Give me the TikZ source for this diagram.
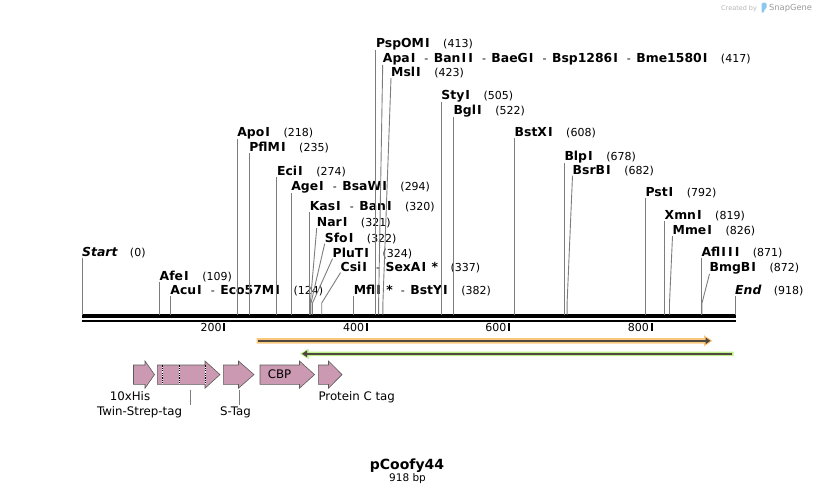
\documentclass[tikz,border=0pt]{standalone}
\usepackage{fontspec}
\setmainfont{DejaVu Sans}
\usetikzlibrary{arrows.meta}
\definecolor{linegray}{RGB}{125,125,125}
\definecolor{featpink}{RGB}{204,153,178}
\definecolor{featedge}{RGB}{90,90,90}
\definecolor{orfor}{RGB}{250,200,125}
\definecolor{orfgr}{RGB}{188,240,140}
\definecolor{orfdark}{RGB}{80,72,62}
\definecolor{logogray}{RGB}{180,180,180}
\definecolor{logoblue}{RGB}{140,200,235}
\newcommand\enz[2]{{\fontsize{12.4}{13}\selectfont\bfseries #1}\hspace{12.5pt}(#2)}
\newcommand\ensep{{\fontsize{11}{13}\selectfont\mdseries\hspace{8pt}-\hspace{5.5pt}}}
\newcommand\wI{\kern1.05pt I\kern1.05pt}
\begin{document}
\begin{tikzpicture}[x=1pt,y=-1pt,
  enzl/.style={anchor=base west, inner sep=0pt, font=\fontsize{11}{13}\selectfont},
  cutl/.style={draw=linegray, line width=0.9pt},
  feat/.style={fill=featpink, draw=featedge, line width=0.6pt},
  ftxt/.style={inner sep=0pt, anchor=base, font=\fontsize{11.8}{13}\selectfont},
  ticklbl/.style={anchor=base east, inner sep=0pt, font=\fontsize{11}{13}\selectfont},
  orfline/.style={draw=orfdark, line width=2pt, -{Triangle[length=5pt,width=6.5pt]}}]
\useasboundingbox (0,0) rectangle (818,493);
\coordinate (top) at (0,314.5);
% ---------- backbone ----------
\coordinate (bbL) at (82,316);
\coordinate (bbR) at (735.5,316);
\coordinate (bbL2) at (82,321.2);
\coordinate (bbR2) at (735.5,321.2);
\draw[line width=3.3pt] (bbL) -- (bbR);
\draw[line width=2.3pt] (bbL2) -- (bbR2);
% ticks
\foreach \x/\t in {224.4/200,366.7/400,509.1/600,651.5/800}{
  \fill (\x-1,322.5) rectangle (\x+1,331);
  \node[ticklbl] (tk\t) at (\x-2.5,331.5) {\t};
}
% ---------- enzyme labels ----------
\node[enzl] (n0)   at (82,256)    {\enz{\itshape Start}{0}};
\node[enzl] (n109) at (159.5,280) {\enz{Afe\wI}{109}};
\node[enzl] (n124) at (170.2,294.5) {\enz{Acu\wI\ensep Eco57M\wI}{124}};
\node[enzl] (n218) at (237.1,136.5) {\enz{Apo\wI}{218}};
\node[enzl] (n235) at (249.2,151.5) {\enz{PflM\wI}{235}};
\node[enzl] (n274) at (276.9,175) {\enz{Eci\wI}{274}};
\node[enzl] (n294) at (291.1,190) {\enz{Age\wI\ensep BsaW\wI}{294}};
\node[enzl] (n320) at (309.6,210) {\enz{Kas\wI\ensep Ban\wI}{320}};
\node[enzl] (n321) at (316.7,226.5) {\enz{Nar\wI}{321}};
\node[enzl] (n322) at (324.7,242) {\enz{Sfo\wI}{322}};
\node[enzl] (n324) at (332.5,257) {\enz{PluT\wI}{324}};
\node[enzl] (n337) at (340.5,271) {\enz{Csi\wI\ensep SexA\wI\ *}{337}};
\node[enzl] (n382) at (353.7,294.5) {\enz{Mfl\wI\ *\ensep BstY\wI}{382}};
\node[enzl] (n413) at (375.8,47) {\enz{PspOM\wI}{413}};
\node[enzl] (n417) at (382.7,62) {\enz{Apa\wI\ensep Ban\wI\wI\ensep BaeG\wI\ensep Bsp1286\wI\ensep Bme1580\wI}{417}};
\node[enzl] (n423) at (391,76.5) {\enz{Msl\wI}{423}};
\node[enzl] (n505) at (441.2,99) {\enz{Sty\wI}{505}};
\node[enzl] (n522) at (453.3,114.5) {\enz{Bgl\wI}{522}};
\node[enzl] (n608) at (514.5,136.5) {\enz{BstX\wI}{608}};
\node[enzl] (n678) at (564.3,160) {\enz{Blp\wI}{678}};
\node[enzl] (n682) at (572.5,174) {\enz{BsrB\wI}{682}};
\node[enzl] (n792) at (645.3,196.5) {\enz{Pst\wI}{792}};
\node[enzl] (n819) at (664.5,219.5) {\enz{Xmn\wI}{819}};
\node[enzl] (n826) at (672.5,234.5) {\enz{Mme\wI}{826}};
\node[enzl] (n871) at (701.3,256) {\enz{Afl\wI\wI\wI}{871}};
\node[enzl] (n872) at (709.5,271) {\enz{BmgB\wI}{872}};
\node[enzl] (n918) at (735,294.5) {\enz{\itshape End}{918}};
% vertical connectors
\foreach \n in {n0,n109,n124,n218,n235,n274,n294,n320,n382,n413,n505,n522,n608,n678,n792,n819,n871,n918}{
  \draw[cutl] (\n.south west) -- (\n.south west |- top);
}
% bent connectors
\foreach \n/\x in {n321/310.3,n322/311.0,n324/312.5,n337/321.7,n417/378.6,n423/382.9,n682/567.1,n826/669.5,n872/702.0}{
  \coordinate (k\n) at (\x,303);
  \coordinate (c\n) at (\x,314.5);
  \draw[cutl] (\n.south west) -- (k\n) -- (c\n);
}
% ---------- ORFs ----------
\fill[orfor] (256.5,338) -- (704,338) -- (704,335.2) -- (712.5,340.8) -- (704,346.4) -- (704,343.6) -- (256.5,343.6) -- cycle;
\coordinate (oA) at (258,340.8);
\coordinate (oB) at (710.5,340.8);
\draw[orfline] (oA) -- (oB);
\fill[orfgr] (733.5,351.5) -- (308.5,351.5) -- (308.5,348.7) -- (300,353.8) -- (308.5,359) -- (308.5,356.2) -- (733.5,356.2) -- cycle;
\coordinate (gA) at (732,353.8);
\coordinate (gB) at (302,353.8);
\draw[orfline] (gA) -- (gB);
% ---------- features ----------
\draw[feat] (133.5,365) -- (145,365) -- (145,361) -- (154.5,374.6) -- (145,388.2) -- (145,384.3) -- (133.5,384.3) -- cycle;
\draw[feat] (157.3,365) -- (205,365) -- (205,361) -- (220,374.6) -- (205,388.2) -- (205,384.3) -- (157.3,384.3) -- cycle;
\foreach \x in {162.7,179.3,205}{
  \draw[white, line width=0.9pt] (\x,365.4) -- (\x,383.9);
  \draw[black, line width=0.9pt, dash pattern=on 1.2pt off 1.2pt] (\x,365.4) -- (\x,383.9);
}
\draw[feat] (223.3,365) -- (238.5,365) -- (238.5,361) -- (254,374.6) -- (238.5,388.2) -- (238.5,384.3) -- (223.3,384.3) -- cycle;
\draw[feat] (260,365) -- (299.5,365) -- (299.5,361) -- (314.5,374.6) -- (299.5,388.2) -- (299.5,384.3) -- (260,384.3) -- cycle;
\draw[feat] (318.3,365) -- (328.5,365) -- (328.5,361) -- (342,374.6) -- (328.5,388.2) -- (328.5,384.3) -- (318.3,384.3) -- cycle;
\node[ftxt] (lcbp) at (279.5,378.5) {CBP};
\node[ftxt] (l10his) at (130,400) {10xHis};
\node[ftxt] (ltwin) at (139.5,415) {Twin-Strep-tag};
\node[ftxt] (lstag) at (235.5,415) {S-Tag};
\node[ftxt, anchor=base west] (lpc) at (318.3,400) {Protein C tag};
\coordinate (tw1) at (190,389.5); \coordinate (tw2) at (190,404.5);
\coordinate (st1) at (239.3,389.5); \coordinate (st2) at (239.3,404.5);
\draw[cutl] (tw1) -- (tw2);
\draw[cutl] (st1) -- (st2);
% ---------- title ----------
\node[anchor=base, inner sep=0pt, font=\fontsize{14}{16}\selectfont\bfseries] (title) at (407,469) {pCoofy44};
\node[anchor=base, inner sep=0pt, font=\fontsize{10.5}{12}\selectfont] (len) at (407.5,481) {918 bp};
% ---------- logo ----------
\node[anchor=base west, inner sep=0pt, font=\fontsize{6.5}{8}\selectfont, text=logogray] (cby) at (721,10) {Created by};
\fill[logoblue, rounded corners=1.5pt] (761.5,2.5) -- (766.5,2.5) -- (766.5,9) -- (764,9) -- (764,13) -- (761.5,13) -- cycle;
\node[anchor=base west, inner sep=0pt, font=\fontsize{8.3}{10}\selectfont, text=logogray!85!black] (sg) at (769,10.5) {SnapGene};
\end{tikzpicture}
\end{document}
